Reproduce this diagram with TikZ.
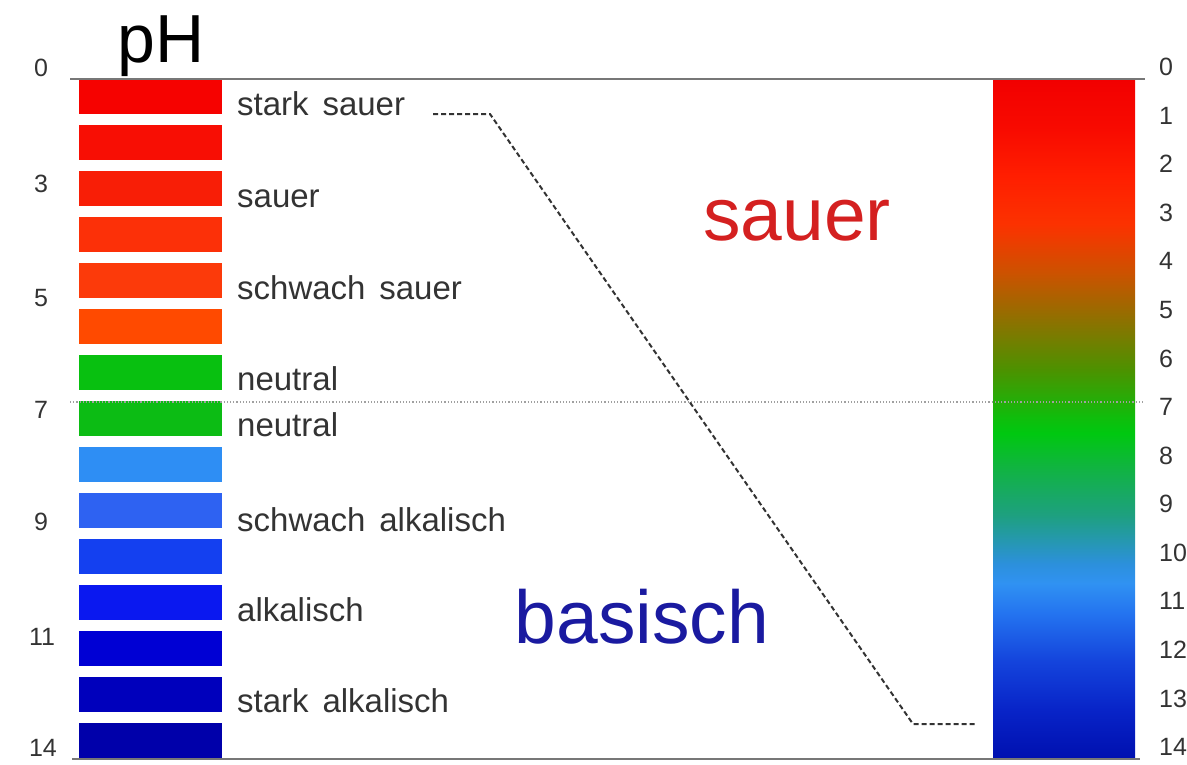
\documentclass[tikz,border=0pt]{standalone}
\usepackage{fontspec}
\setmainfont{Liberation Sans}

% colours of the fifteen bars of the left scale, top to bottom
\definecolor{bar0}{HTML}{F60200}
\definecolor{bar1}{HTML}{F80E04}
\definecolor{bar2}{HTML}{F81E06}
\definecolor{bar3}{HTML}{FC3008}
\definecolor{bar4}{HTML}{FC3A0A}
\definecolor{bar5}{HTML}{FF4A00}
\definecolor{bar6}{HTML}{08C010}
\definecolor{bar7}{HTML}{0CBC14}
\definecolor{bar8}{HTML}{2E8EF4}
\definecolor{bar9}{HTML}{2E62F2}
\definecolor{bar10}{HTML}{1440F0}
\definecolor{bar11}{HTML}{0A18F0}
\definecolor{bar12}{HTML}{0000D4}
\definecolor{bar13}{HTML}{0000BC}
\definecolor{bar14}{HTML}{0000AA}

% colours along the continuous scale (pH 0 ... 14)
\definecolor{g0}{HTML}{F20000}
\definecolor{g1}{HTML}{F80A00}
\definecolor{g2}{HTML}{FF1E00}
\definecolor{g3}{HTML}{FC3200}
\definecolor{g4}{HTML}{CC5200}
\definecolor{g5}{HTML}{8C7200}
\definecolor{g6}{HTML}{4C9200}
\definecolor{g7}{HTML}{0EBE0C}
\definecolor{g7b}{HTML}{00C810}
\definecolor{g8}{HTML}{10B440}
\definecolor{g9}{HTML}{1EA080}
\definecolor{g10}{HTML}{2C90DC}
\definecolor{g10b}{HTML}{3092F2}
\definecolor{g11}{HTML}{2474F0}
\definecolor{g12}{HTML}{1444DC}
\definecolor{g13}{HTML}{0824C8}
\definecolor{g14}{HTML}{0010B0}

\definecolor{txt}{HTML}{333333}
\definecolor{rule}{HTML}{777777}
\definecolor{acid}{HTML}{D42020}
\definecolor{base}{HTML}{1A1AA0}

% inner 25bp..75bp maps onto the bar (75bp = pH 0, 25bp = pH 14)
\pgfdeclareverticalshading{phscale}{100bp}{%
  color(0bp)=(g14); color(25bp)=(g14); color(28.57bp)=(g13);
  color(32.14bp)=(g12); color(35.71bp)=(g11); color(37.86bp)=(g10b);
  color(39.29bp)=(g10); color(42.86bp)=(g9); color(46.43bp)=(g8);
  color(48.9bp)=(g7b); color(50bp)=(g7); color(53.57bp)=(g6);
  color(57.14bp)=(g5); color(60.71bp)=(g4); color(64.29bp)=(g3);
  color(67.86bp)=(g2); color(71.43bp)=(g1); color(75bp)=(g0);
  color(100bp)=(g0)}

\tikzset{
  lbl/.style={anchor=base west, inner sep=0pt, text=txt,
    font=\fontsize{33}{38}\selectfont},
  lnum/.style={anchor=center, inner sep=0pt, text=txt,
    font=\fontsize{25}{30}\selectfont},
  rnum/.style={anchor=west, inner sep=0pt, text=txt,
    font=\fontsize{25}{30}\selectfont},
  bigword/.style={anchor=base, inner sep=0pt,
    font=\fontsize{75}{80}\selectfont},
  guide/.style={draw=txt, line width=2pt, dash pattern=on 5pt off 3pt},
}
\newcommand{\wgap}{\hspace{0.42em}}

\begin{document}
\begin{tikzpicture}[x=1pt, y=-1pt]
\useasboundingbox (0,0) rectangle (1187,764);

% stepped scale
\foreach \i in {0,...,14}{
  \fill[bar\i] (79,{79+46*\i}) rectangle (222,{114+46*\i});
}

% continuous scale
\shade[shading=phscale] (993,79) rectangle (1135,758);

% frame lines and the neutral line
\draw[rule, line width=2pt] (70,79) -- (1145,79);
\draw[rule, line width=2pt] (72,759) -- (1140,759);
\draw[rule!70, line width=1.2pt, dotted] (70,402) -- (1145,402);

% heading
\node[anchor=base, inner sep=0pt, font=\fontsize{68}{72}\selectfont] (ph) at (161,62) {pH};

% left numbers
\node[lnum] (l0)  at (41,68)  {0};
\node[lnum] (l3)  at (41,184) {3};
\node[lnum] (l5)  at (41,298) {5};
\node[lnum] (l7)  at (41,410) {7};
\node[lnum] (l9)  at (41,522) {9};
\node[lnum] (l11) at (42,637) {11};
\node[lnum] (l14) at (43,748) {14};

% category labels
\node[lbl] (ss)  at (237,115) {stark\wgap sauer};
\node[lbl] (s)   at (237,207) {sauer};
\node[lbl] (ws)  at (237,299) {schwach\wgap sauer};
\node[lbl] (n1)  at (237,390) {neutral};
\node[lbl] (n2)  at (237,436) {neutral};
\node[lbl] (wa)  at (237,531) {schwach\wgap alkalisch};
\node[lbl] (a)   at (237,621) {alkalisch};
\node[lbl] (sa)  at (237,712) {stark\wgap alkalisch};

% large words
\node[bigword, text=acid] (acidw) at (797,240) {sauer};
\node[bigword, text=base] (basew) at (642,643) {basisch};

% right numbers
\foreach \k in {0,...,14}{
  \node[rnum] (r\k) at (1159,{67+48.57*\k}) {\k};
}

% dashed guide from strongly acidic to strongly basic
\coordinate (gA) at (433,114);
\coordinate (gB) at (490,114);
\coordinate (gC) at (913,724);
\coordinate (gD) at (975,724);
\draw[guide] (gA) -- (gB) -- (gC) -- (gD);

\end{tikzpicture}
\end{document}
